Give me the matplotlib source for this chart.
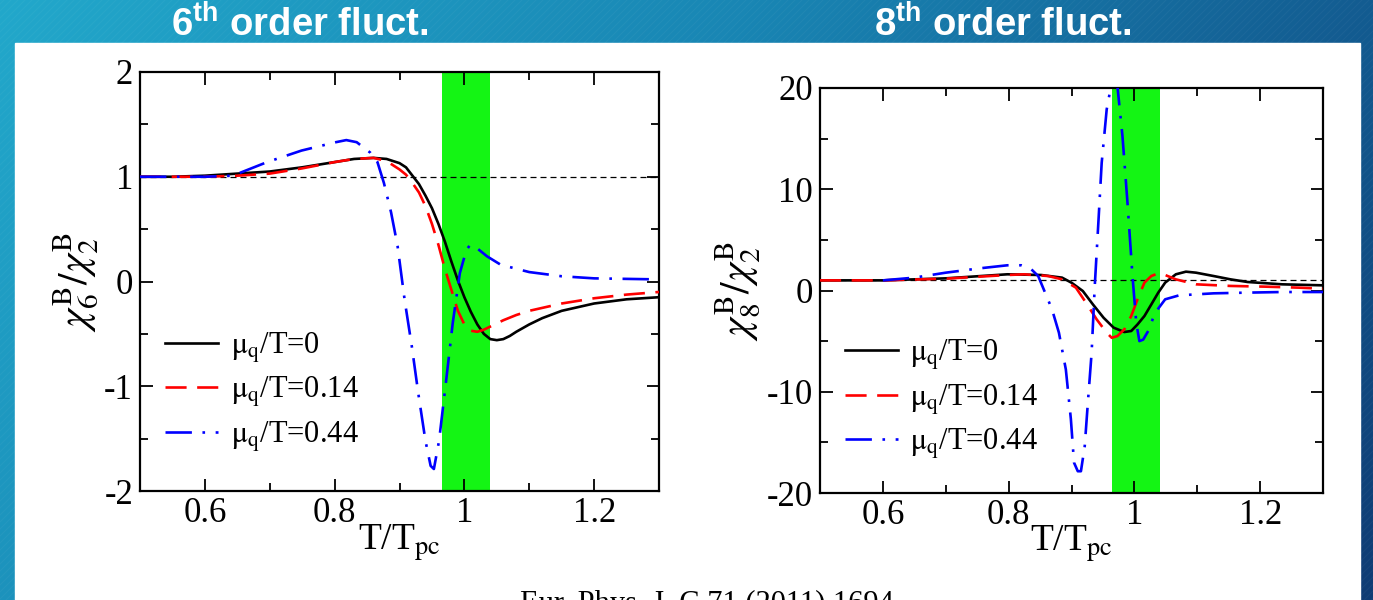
import numpy as np
import matplotlib
matplotlib.use('Agg')
import matplotlib.pyplot as plt
from matplotlib.patches import Rectangle
from matplotlib.ticker import MultipleLocator, FixedLocator, FixedFormatter

# ---------------- data ----------------
labels = [r'$\mathrm{\mu_q}$/T=0', r'$\mathrm{\mu_q}$/T=0.14', r'$\mathrm{\mu_q}$/T=0.44']
band = [0.965, 1.04]
ref_level = 1.0

# 6th order: chi6/chi2
x6_mu0 = [0.50, 0.55, 0.60, 0.65, 0.70, 0.75, 0.80, 0.83, 0.86, 0.88, 0.90, 0.91, 0.92, 0.93,
          0.94, 0.95, 0.96, 0.97, 0.98, 0.99, 1.00, 1.01, 1.02, 1.03, 1.04, 1.05, 1.06, 1.07,
          1.08, 1.10, 1.12, 1.15, 1.20, 1.25, 1.30]
y6_mu0 = [1.00, 1.00, 1.01, 1.03, 1.05, 1.09, 1.14, 1.17, 1.18, 1.17, 1.13, 1.09, 1.01, 0.93,
          0.82, 0.70, 0.55, 0.38, 0.19, 0.01, -0.15, -0.29, -0.41, -0.50, -0.55, -0.56, -0.55, -0.52,
          -0.48, -0.41, -0.35, -0.28, -0.21, -0.17, -0.15]

x6_mu014 = [0.50, 0.60, 0.65, 0.70, 0.75, 0.80, 0.83, 0.86, 0.88, 0.89, 0.90, 0.91, 0.92, 0.93,
            0.94, 0.95, 0.96, 0.97, 0.98, 0.99, 1.00, 1.01, 1.02, 1.03, 1.04, 1.06, 1.08, 1.10,
            1.15, 1.20, 1.25, 1.30]
y6_mu014 = [1.00, 1.00, 1.01, 1.03, 1.08, 1.14, 1.17, 1.18, 1.15, 1.11, 1.07, 1.02, 0.94, 0.85,
            0.72, 0.55, 0.35, 0.12, -0.08, -0.28, -0.41, -0.47, -0.48, -0.46, -0.43, -0.37, -0.32, -0.28,
            -0.21, -0.16, -0.125, -0.10]

x6_mu044 = [0.50, 0.60, 0.643, 0.696, 0.749, 0.802, 0.818, 0.834, 0.855, 0.866, 0.876, 0.887, 0.897,
            0.908, 0.919, 0.929, 0.940, 0.948, 0.953, 0.961, 0.972, 0.982, 0.993, 1.003, 1.009,
            1.019, 1.035, 1.056, 1.10, 1.15, 1.20, 1.30]
y6_mu044 = [1.00, 1.00, 1.01, 1.14, 1.25, 1.33, 1.35, 1.33, 1.23, 1.14, 0.94, 0.66, 0.34,
            -0.18, -0.62, -1.07, -1.52, -1.76, -1.79, -1.52, -0.94, -0.40, 0.08, 0.30, 0.35,
            0.32, 0.24, 0.16, 0.09, 0.05, 0.03, 0.02]

# 8th order: chi8/chi2
x8_mu0 = [0.50, 0.60, 0.70, 0.798, 0.852, 0.885, 0.90, 0.918, 0.934, 0.951, 0.967, 0.984, 0.995,
          1.005, 1.016, 1.027, 1.038, 1.049, 1.066, 1.082, 1.098, 1.126, 1.153, 1.18, 1.235, 1.30]
y8_mu0 = [1.00, 1.00, 1.20, 1.60, 1.53, 1.27, 0.77, -0.05, -1.37, -2.69, -3.67, -4.10, -4.00,
          -3.35, -2.52, -1.37, -0.21, 0.78, 1.60, 1.86, 1.76, 1.43, 1.10, 0.84, 0.61, 0.51]

x8_mu014 = [0.50, 0.60, 0.70, 0.798, 0.825, 0.863, 0.885, 0.907, 0.923, 0.940, 0.956, 0.964, 0.973,
            0.984, 0.995, 1.005, 1.016, 1.027, 1.038, 1.049, 1.066, 1.098, 1.153, 1.208, 1.262, 1.30]
y8_mu014 = [1.00, 1.00, 1.17, 1.53, 1.60, 1.43, 1.10, 0.28, -1.20, -2.85, -4.17, -4.67, -4.50,
            -3.84, -2.52, -0.87, 0.78, 1.43, 1.70, 1.53, 1.10, 0.61, 0.45, 0.38, 0.28, 0.18]

x8_mu044 = [0.60, 0.65, 0.70, 0.754, 0.798, 0.82, 0.836, 0.847, 0.858, 0.869, 0.880, 0.891, 0.899,
            0.904, 0.910, 0.915, 0.921, 0.926, 0.932, 0.937, 0.943, 0.948, 0.956, 0.962, 0.967,
            0.973, 0.981, 0.989, 0.997, 1.003, 1.008, 1.014, 1.022, 1.033, 1.049, 1.071, 1.126,
            1.18, 1.235, 1.30]
y8_mu044 = [1.00, 1.27, 1.76, 2.19, 2.49, 2.49, 2.10, 1.43, -0.21, -1.86, -4.17, -7.80, -12.7,
            -17.0, -17.85, -17.85, -15.4, -11.1, -6.15, 0.45, 7.0, 12.6, 17.9, 19.9, 20.5,
            20.2, 15.3, 8.7, 1.43, -3.2, -5.0, -4.85, -4.0, -2.2, -0.87, -0.48, -0.28,
            -0.21, -0.15, -0.15]

xticks = [0.6, 0.8, 1.0, 1.2]
xticklabels = ['0.6', '0.8', '1', '1.2']
yticks6 = [-2, -1, 0, 1, 2]
yticklabels6 = ['-2', '-1', '0', '1', '2']
yticks8 = [-20, -10, 0, 10, 20]
yticklabels8 = ['-20', '-10', '0', '10', '20']

# ---------------- style ----------------
plt.rcParams['font.family'] = ['Liberation Serif', 'DejaVu Serif']
plt.rcParams['mathtext.fontset'] = 'stix'
plt.rcParams['mathtext.rm'] = 'Liberation Sans:bold'
plt.rcParams['mathtext.bf'] = 'Liberation Sans:bold'
plt.rcParams['axes.unicode_minus'] = False

W, H = 1373, 600
fig = plt.figure(figsize=(W / 100, H / 100), dpi=100)

# slide background
bg = fig.add_axes([0, 0, 1, 1], zorder=-10)
bg.set_axis_off()
gx, gy = np.meshgrid(np.linspace(0, 1, 400), np.linspace(0, 1, 200))
u = gx + 0.35 * gy
stops = np.array([0.0, 0.55, 1.0, 1.35])
cols = np.array([[34, 168, 203], [25, 134, 180], [19, 92, 145], [15, 60, 116]]) / 255.0
img = np.stack([np.interp(u, stops, cols[:, k]) for k in range(3)], axis=-1)
bg.imshow(img, extent=[0, 1, 0, 1], aspect='auto', origin='upper')
for s in np.arange(-1.0, 1.0, 7 / W):
    bg.plot([s, s + H / W], [0, 1], color='white', alpha=0.035, lw=0.8)
bg.add_patch(Rectangle((15 / W, 0), (1360 - 15) / W, 1 - 43 / H, color='white', zorder=5))
bg.set_xlim(0, 1)
bg.set_ylim(0, 1)

title_kw = dict(color='white', fontsize=27.5, fontweight='bold', family='Liberation Sans',
                ha='center', va='baseline', math_fontfamily='custom')
fig.text(300 / W, 1 - 37 / H, r'$\mathbf{6^{th}}$ order fluct.', **title_kw)
fig.text(1003 / W, 1 - 37 / H, r'$\mathbf{8^{th}}$ order fluct.', **title_kw)
fig.text(707 / W, 1 - 612 / H, 'Eur. Phys. J. C 71 (2011) 1694', fontsize=22,
         ha='center', va='baseline', color='black')

GREEN = '#14f514'
line_styles = [dict(color='black', lw=1.9, ls='-'),
               dict(color='red', lw=1.9, dashes=(8, 4)),
               dict(color='blue', lw=1.9, dashes=(10, 4, 1, 4))]


def setup(ax, xs, ys, yticks, yticklabels, ylim, ylabel, ymajor_minor, lab_x, leg_anchor):
    ax.axvspan(band[0], band[1], color=GREEN, lw=0, zorder=0)
    ax.axhline(ref_level, color='black', lw=0.9, dashes=(4.8, 3.2), zorder=1)
    for x, y, st, lab in zip(xs, ys, line_styles, labels):
        ax.plot(x, y, label=lab, zorder=3, **st)
    ax.set_xlim(0.5, 1.3)
    ax.set_ylim(*ylim)
    ax.xaxis.set_major_locator(FixedLocator(xticks))
    ax.xaxis.set_major_formatter(FixedFormatter(xticklabels))
    ax.xaxis.set_minor_locator(MultipleLocator(0.1))
    ax.yaxis.set_major_locator(FixedLocator(yticks))
    ax.yaxis.set_major_formatter(FixedFormatter(yticklabels))
    ax.yaxis.set_minor_locator(MultipleLocator(ymajor_minor))
    ax.tick_params(which='both', direction='in', top=True, right=True, width=1.3,
                   labelsize=25, colors='black')
    ax.tick_params(which='major', length=9)
    ax.tick_params(which='minor', length=5.5)
    ax.tick_params(axis='x', pad=4)
    ax.tick_params(axis='y', pad=5)
    for sp in ax.spines.values():
        sp.set_linewidth(1.6)
    ax.set_ylabel(ylabel, fontsize=30)
    ax.yaxis.set_label_coords(lab_x, 0.5)
    ax.set_xlabel(r'T/T$_{\mathrm{pc}}$', fontsize=27)
    ax.xaxis.set_label_coords(0.5, -0.075)
    ax.xaxis.label.set_math_fontfamily('stix')
    ax.yaxis.label.set_math_fontfamily('stix')
    leg = ax.legend(loc='upper left', bbox_to_anchor=leg_anchor, frameon=False, fontsize=22,
                    handlelength=1.75, handletextpad=0.4, labelspacing=0.33,
                    borderpad=0, borderaxespad=0)
    for t in leg.get_texts():
        t.set_math_fontfamily('stix')


ax1 = fig.add_axes([140 / W, 1 - 491 / H, 519 / W, 419 / H], zorder=10)
setup(ax1, [x6_mu0, x6_mu014, x6_mu044], [y6_mu0, y6_mu014, y6_mu044],
      yticks6, yticklabels6, (-2, 2), r'$\chi_6^{\mathrm{B}}/\chi_2^{\mathrm{B}}$', 0.5,
      -0.077, (0.048, 0.383))

ax2 = fig.add_axes([820 / W, 1 - 493 / H, 503 / W, 405 / H], zorder=10)
setup(ax2, [x8_mu0, x8_mu014, x8_mu044], [y8_mu0, y8_mu014, y8_mu044],
      yticks8, yticklabels8, (-20, 20), r'$\chi_8^{\mathrm{B}}/\chi_2^{\mathrm{B}}$', 5,
      -0.115, (0.049, 0.383))

fig.savefig('out.png', dpi=100)
